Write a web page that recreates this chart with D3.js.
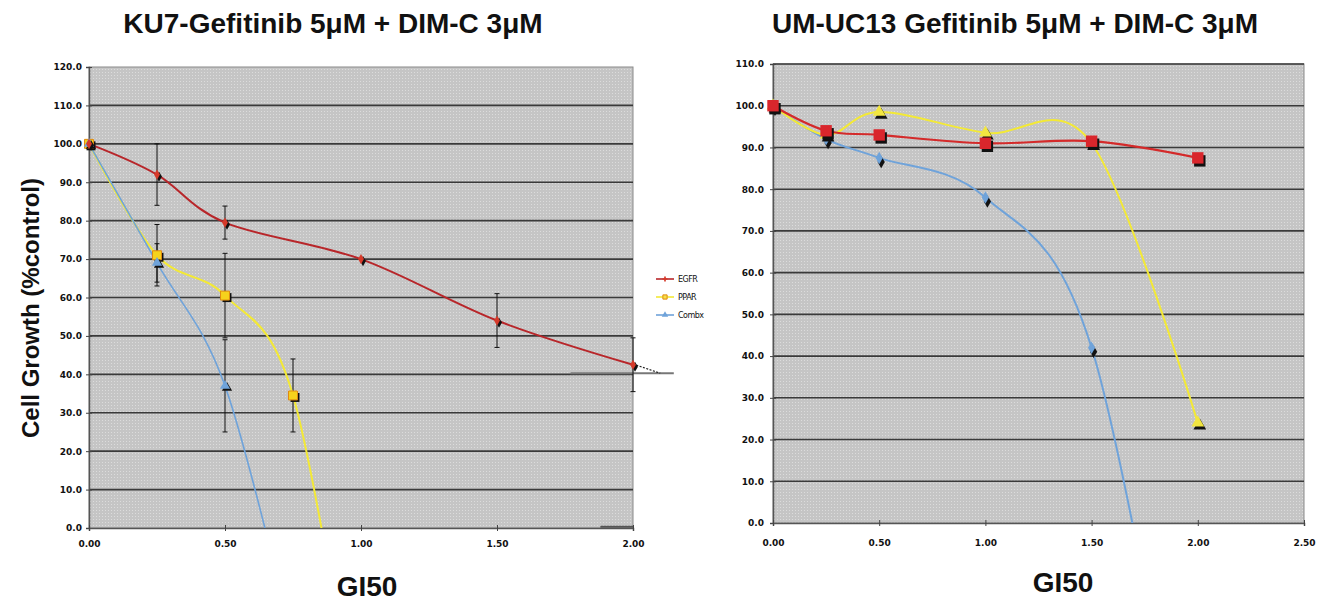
<!DOCTYPE html>
<html>
<head>
  <meta charset="UTF-8">
  <title>Gefitinib + DIM-C growth curves</title>
  <script src="https://d3js.org/d3.v7.min.js"></script>
  <style>
    body { margin: 0; background: #fff; }
    svg { display: block; }
    .tick text { font-family: "DejaVu Sans", sans-serif; font-weight: bold; fill: #111; }
    .title { font-family: "Liberation Sans", Arial, sans-serif; font-weight: bold; fill: #111; }
  </style>
</head>
<body>
<svg width="1326" height="601"></svg>

<script>
// KU7 panel (left)
const ku7Dose = [0, 0.25, 0.5, 1.0, 1.5, 2.0];
const ku7Egfr = [100, 92, 79.5, 70, 54, 42.5];
const ku7EgfrErr = [0, 8, 4.3, 0, 7, 7];
const ku7PparDose = [0, 0.25, 0.5, 0.75, 1.0];
const ku7Ppar = [100, 71, 60.5, 34.5, -60];
const ku7PparErr = [0, 8, 11, 9.5, 0];
const ku7CombDose = [0, 0.25, 0.5, 0.75];
const ku7Comb = [100, 69, 37, -30];
const ku7CombErr = [0, 5, 12, 0];

// UM-UC13 panel (right)
const ucDose = [0, 0.25, 0.5, 1.0, 1.5, 2.0];
const ucEgfr = [100, 94, 93, 91, 91.5, 87.5];
const ucPpar = [100, 93, 98.5, 93.5, 91, 24];
const ucComb = [100, 92, 87.5, 78, 42, -85];

const legendNames = ["EGFR", "PPAR", "Combx"];
const xTicksKu7 = [0, 0.5, 1.0, 1.5, 2.0];
const xTicksUc = [0, 0.5, 1.0, 1.5, 2.0, 2.5];

let svg = d3.select("svg");

// dotted grey plot background
let defs = svg.append("defs");
let pat = defs.append("pattern").attr("id", "dots")
  .attr("width", 3).attr("height", 3).attr("patternUnits", "userSpaceOnUse");
pat.append("rect").attr("width", 3).attr("height", 3).attr("fill", "#c5c5c5");
pat.append("rect").attr("width", 1).attr("height", 1).attr("fill", "#dcdcdc");

function series(xs, ys, errs) {
  return xs.map((x, i) => ({x: x, y: ys[i], e: errs ? errs[i] : 0}));
}

function drawPanel(cfg) {
  let x = d3.scaleLinear().domain(cfg.xDomain).range([cfg.left, cfg.right]);
  let y = d3.scaleLinear().domain(cfg.yDomain).range([cfg.bottom, cfg.top]);
  let g = svg.append("g");

  g.append("rect")
    .attr("x", cfg.left).attr("y", cfg.top)
    .attr("width", cfg.right - cfg.left).attr("height", cfg.bottom - cfg.top)
    .attr("fill", "url(#dots)").attr("stroke", "#8a8a8a").attr("stroke-width", 1);

  // gridlines
  g.append("g").selectAll("line")
    .data(cfg.yTicks.filter(d => d > 0 && (cfg.gridTop || d < cfg.yDomain[1])))
    .join("line")
    .attr("x1", cfg.left).attr("x2", cfg.right)
    .attr("y1", d => y(d)).attr("y2", d => y(d))
    .attr("stroke", "#3a3a3a").attr("stroke-width", 1.6);

  // axes
  let ya = g.append("g").attr("transform", `translate(${cfg.left},0)`)
    .call(d3.axisLeft(y).tickValues(cfg.yTicks).tickFormat(d3.format(".1f")).tickSize(3).tickPadding(cfg.yPad));
  ya.selectAll(".tick line").attr("x1", 3).attr("stroke", "#444");
  ya.select(".domain").attr("stroke", "#555").attr("stroke-width", 1.5);
  ya.selectAll(".tick text").style("font-size", cfg.tickFont + "px");

  let xa = g.append("g").attr("transform", `translate(0,${cfg.bottom})`)
    .call(d3.axisBottom(x).tickValues(cfg.xTicks).tickFormat(d3.format(".2f")).tickSize(3).tickPadding(cfg.xPad));
  xa.selectAll(".tick line").attr("y1", -3).attr("stroke", "#444");
  xa.select(".domain").attr("stroke", "#555").attr("stroke-width", 1.5);
  xa.selectAll(".tick text").style("font-size", cfg.tickFont + "px");

  // clip
  let clipId = "clip" + cfg.id;
  defs.append("clipPath").attr("id", clipId).append("rect")
    .attr("x", cfg.left - 10).attr("y", cfg.top - 10)
    .attr("width", cfg.right - cfg.left + 20).attr("height", cfg.bottom - cfg.top + 10);

  let line = d3.line().x(d => x(d.x)).y(d => y(d.y)).curve(d3.curveCardinal.tension(0));

  // extra segments (trendline remnants)
  (cfg.extras || []).forEach(s => {
    g.append("line")
      .attr("x1", x(s.x1)).attr("y1", y(s.y1)).attr("x2", x(s.x2)).attr("y2", y(s.y2))
      .attr("stroke", s.color).attr("stroke-width", s.width)
      .attr("stroke-dasharray", s.dash || null);
  });

  // error bars
  let eg = g.append("g").attr("stroke", "#111").attr("stroke-width", 1);
  cfg.series.forEach(s => {
    s.data.filter(d => d.e > 0).forEach(d => {
      let cx = x(d.x);
      eg.append("line").attr("x1", cx).attr("x2", cx).attr("y1", y(d.y - d.e)).attr("y2", y(d.y + d.e));
      [d.y - d.e, d.y + d.e].forEach(v => {
        eg.append("line").attr("x1", cx - 2.5).attr("x2", cx + 2.5).attr("y1", y(v)).attr("y2", y(v));
      });
    });
  });

  // lines
  cfg.series.forEach(s => {
    g.append("path").datum(s.data)
      .attr("clip-path", `url(#${clipId})`)
      .attr("d", line)
      .attr("fill", "none").attr("stroke", s.color).attr("stroke-width", s.width);
  });

  // markers with black shadow
  cfg.series.forEach(s => {
    let sym = d3.symbol().type(s.symbol).size(s.size);
    let pts = s.data.filter(d => d.y >= 0);
    g.append("g").selectAll("path").data(pts).join("path")
      .attr("d", sym)
      .attr("transform", d => `translate(${x(d.x) + s.shadow[0]},${y(d.y) + s.shadow[1]})`)
      .attr("fill", "#111");
    g.append("g").selectAll("path").data(pts).join("path")
      .attr("d", sym)
      .attr("transform", d => `translate(${x(d.x)},${y(d.y)})`)
      .attr("fill", s.fill).attr("stroke", s.stroke || "none").attr("stroke-width", 1);
  });

  // titles
  svg.append("text").attr("class", "title")
    .attr("x", cfg.titleX).attr("y", 33).attr("text-anchor", "middle")
    .style("font-size", "28px").text(cfg.title);
  svg.append("text").attr("class", "title")
    .attr("x", cfg.gi50[0]).attr("y", cfg.gi50[1]).attr("text-anchor", "middle")
    .style("font-size", "28px").text("GI50");

  return {x, y};
}

drawPanel({
  id: "ku7",
  title: "KU7-Gefitinib 5\u03bcM + DIM-C 3\u03bcM", titleX: 333,
  left: 89, right: 633, top: 67, bottom: 528,
  xDomain: [0, 2], yDomain: [0, 120],
  xTicks: xTicksKu7, yTicks: d3.range(0, 121, 10),
  gridTop: false, tickFont: 9, yPad: 4, xPad: 10,
  gi50: [367, 596],
  extras: [
    {x1: 1.77, y1: 40.3, x2: 2.15, y2: 40.3, color: "#777", width: 2},
    {x1: 2.0, y1: 42.7, x2: 2.1, y2: 40.3, color: "#222", width: 1.2, dash: "2,1.5"},
    {x1: 1.88, y1: 0.3, x2: 2.0, y2: 0.3, color: "#555", width: 2}
  ],
  series: [
    {data: series(ku7PparDose, ku7Ppar, ku7PparErr), color: "#f3e936", width: 2,
     symbol: d3.symbolSquare, size: 80, fill: "#f6d21c", stroke: "#e08a10", shadow: [2, 2]},
    {data: series(ku7CombDose, ku7Comb, ku7CombErr), color: "#6fa3da", width: 1.6,
     symbol: d3.symbolTriangle, size: 45, fill: "#6fa3da", shadow: [2, 2]},
    {data: series(ku7Dose, ku7Egfr, ku7EgfrErr), color: "#b8262a", width: 2,
     symbol: d3.symbolDiamond, size: 30, fill: "#d63a2a", shadow: [2, 2]}
  ]
});

drawPanel({
  id: "uc",
  title: "UM-UC13 Gefitinib 5\u03bcM + DIM-C 3\u03bcM", titleX: 1015,
  left: 773, right: 1304, top: 64, bottom: 523,
  xDomain: [0, 2.5], yDomain: [0, 110],
  xTicks: xTicksUc, yTicks: d3.range(0, 111, 10),
  gridTop: true, tickFont: 9, yPad: 6, xPad: 14,
  gi50: [1063, 592],
  series: [
    {data: series(ucDose, ucComb), color: "#6fa3da", width: 2,
     symbol: d3.symbolDiamond, size: 45, fill: "#6fa3da", shadow: [2, 4]},
    {data: series(ucDose, ucPpar), color: "#f3e936", width: 2,
     symbol: d3.symbolTriangle, size: 70, fill: "#f2e640", shadow: [2, 3]},
    {data: series(ucDose, ucEgfr), color: "#d42a2a", width: 2.2,
     symbol: d3.symbolSquare, size: 130, fill: "#d9262c", shadow: [2, 3]}
  ]
});

// y axis title (left panel)
svg.append("text").attr("class", "title")
  .attr("transform", "translate(39,308) rotate(-90)")
  .attr("text-anchor", "middle").style("font-size", "24px")
  .text("Cell Growth (%control)");

// legend (left panel)
const legendColors = ["#b8262a", "#f3e936", "#6fa3da"];
const legendFills = ["#d63a2a", "#f6d21c", "#6fa3da"];
const legendSymbols = [d3.symbolCross, d3.symbolSquare, d3.symbolTriangle];
let lg = svg.append("g").attr("transform", "translate(656,279)");
legendNames.forEach((name, i) => {
  let row = lg.append("g").attr("transform", `translate(0,${i * 18})`);
  row.append("line").attr("x1", 0).attr("x2", 18).attr("stroke", legendColors[i]).attr("stroke-width", 1.6);
  row.append("path").attr("d", d3.symbol().type(legendSymbols[i]).size(i === 0 ? 14 : 18)())
    .attr("transform", "translate(9,0)")
    .attr("fill", i === 1 ? "#f6e04a" : legendFills[i])
    .attr("stroke", i === 1 ? "#e08a10" : "none");
  row.append("text").attr("x", 22).attr("y", 3)
    .style("font-family", "'DejaVu Sans', sans-serif").style("font-size", "8px")
    .style("letter-spacing", "-0.5px").attr("fill", "#111").text(name);
});
</script>
</body>
</html>
